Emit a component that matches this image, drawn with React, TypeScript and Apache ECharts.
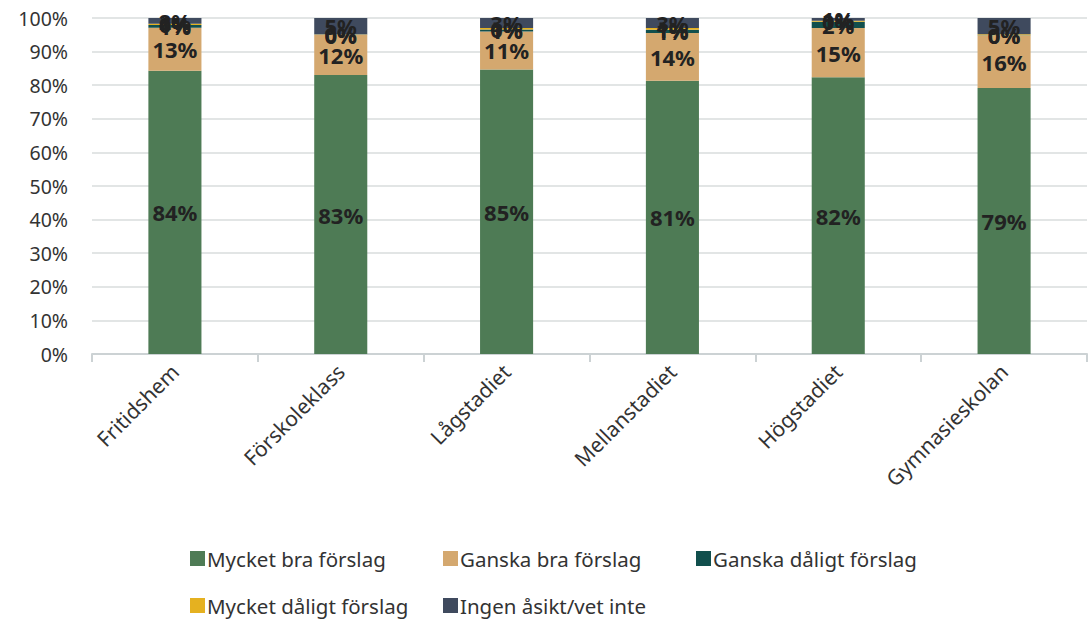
import React, { useEffect, useRef } from "react";
import * as echarts from "echarts";

const categories = ["Fritidshem", "Förskoleklass", "Lågstadiet", "Mellanstadiet", "Högstadiet", "Gymnasieskolan"];
const seriesNames = ["Mycket bra förslag", "Ganska bra förslag", "Ganska dåligt förslag", "Mycket dåligt förslag", "Ingen åsikt/vet inte"];
const mycketBra = [84.3, 83.0, 84.7, 81.3, 82.4, 79.2];
const ganskaBra = [12.8, 12.0, 11.3, 14.2, 14.6, 15.6];
const ganskaDaligt = [0.8, 0.1, 0.6, 1.0, 1.9, 0.1];
const mycketDaligt = [0.4, 0.1, 0.4, 0.5, 0.3, 0.3];
const ingenAsikt = [1.7, 4.8, 3.0, 3.0, 0.8, 4.8];
const yTicks = [0, 10, 20, 30, 40, 50, 60, 70, 80, 90, 100];
const colors = ["#4e7b55", "#d4a86f", "#114f4d", "#e5b120", "#3f4a5e"];

export default function App() {
  const ref = useRef<HTMLDivElement>(null);
  useEffect(() => {
    if (!ref.current) return;
    const chart = echarts.init(ref.current, null, { renderer: "svg" });
    const font = "'Noto Sans', sans-serif";
    const data = [mycketBra, ganskaBra, ganskaDaligt, mycketDaligt, ingenAsikt];
    const legendPos = [
      { left: 185, top: 543 },
      { left: 438, top: 543 },
      { left: 691, top: 543 },
      { left: 185, top: 590 },
      { left: 438, top: 590 },
    ];
    chart.setOption({
      animation: false,
      color: colors,
      textStyle: { fontFamily: font },
      grid: { left: 92, right: 3, top: 18, bottom: 267 },
      legend: seriesNames.map((n, i) => ({
        data: [n],
        left: legendPos[i].left,
        top: legendPos[i].top,
        itemWidth: 15,
        itemHeight: 15,
        itemGap: 6,
        icon: "rect",
        textStyle: { fontSize: 20.5, color: "#333", fontFamily: font, padding: [0, 0, 0, -3] },
      })),
      xAxis: {
        type: "category",
        data: categories,
        axisLine: { lineStyle: { color: "#ccd2d4", width: 2 } },
        axisTick: { show: true, length: 8, lineStyle: { color: "#ccd2d4", width: 2 } },
        axisLabel: { rotate: 45, fontSize: 21, color: "#333", margin: 14, fontFamily: font },
      },
      yAxis: {
        type: "value",
        min: yTicks[0],
        max: yTicks[yTicks.length - 1],
        interval: 10,
        axisLine: { show: false },
        axisTick: { show: false },
        splitLine: { lineStyle: { color: "#d9dcdd", width: 1.5 } },
        axisLabel: { formatter: "{value}%", fontSize: 19.5, color: "#333", margin: 24, fontFamily: font },
      },
      series: seriesNames.map((n, i) => ({
        name: n,
        type: "bar",
        stack: "total",
        barWidth: "32%",
        data: data[i],
        itemStyle: { color: colors[i] },
        label: {
          show: true,
          position: "inside",
          formatter: (p: any) => Math.round(p.value) + "%",
          fontSize: 22,
          fontWeight: "bold",
          color: "#222",
          fontFamily: font,
        },
      })),
    });
    return () => chart.dispose();
  }, []);
  return <div ref={ref} style={{ width: 1090, height: 621, position: "absolute", left: 0, top: 0 }} />;
}
